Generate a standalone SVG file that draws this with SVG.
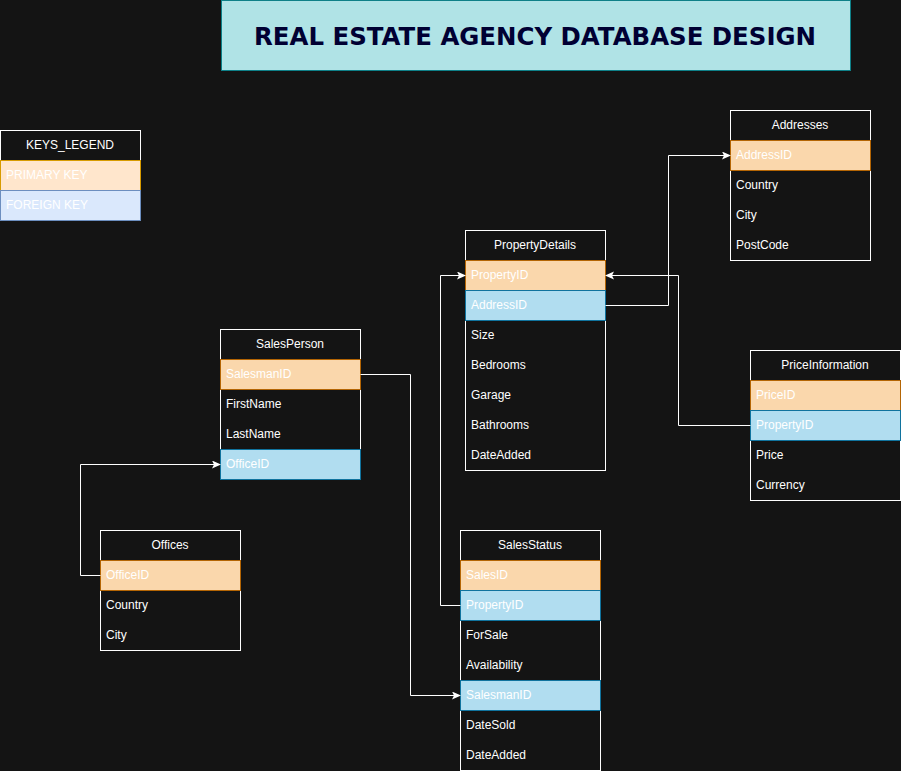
<svg xmlns="http://www.w3.org/2000/svg" width="901" height="771" viewBox="0 0 901 771">
<defs>
<marker id="arr" markerWidth="10" markerHeight="10" refX="8" refY="4" orient="auto" markerUnits="userSpaceOnUse">
<path d="M0,0 L9,4 L0,8 L2,4 Z" fill="#ffffff"/>
</marker>
<style>
.hd{fill:#141414;stroke:#ffffff;stroke-width:1}
.pk{fill:#fad7ac;stroke:#b46504;stroke-width:1}
.fk{fill:#b1ddf0;stroke:#10739e;stroke-width:1}
.lpk{fill:#ffe6cc;stroke:#d79b00;stroke-width:1}
.lfk{fill:#dae8fc;stroke:#6c8ebf;stroke-width:1}
.ht{font-family:"Liberation Sans",Arial,sans-serif;font-size:12px;fill:#ffffff;text-anchor:middle}
.rt{font-family:"Liberation Sans",Arial,sans-serif;font-size:12px;fill:#ffffff}
.conn{fill:none;stroke:#ffffff;stroke-width:1}
</style>
</defs>
<rect x="0" y="0" width="901" height="771" fill="#141414"/>

<g id="title">
<rect x="221.5" y="0.5" width="629" height="70" fill="#b0e3e6" stroke="#0e8088"/>
<text x="535" y="45" font-family="'DejaVu Sans',Verdana,sans-serif" font-weight="bold" font-size="25" fill="#000033" text-anchor="middle" textLength="562" lengthAdjust="spacingAndGlyphs">REAL ESTATE AGENCY DATABASE DESIGN</text>
</g>

<g id="legend">
<rect class="hd" x="0.5" y="130.5" width="140" height="90"/>
<text class="ht" x="70" y="149">KEYS_LEGEND</text>
<rect class="lpk" x="0.5" y="160.5" width="140" height="30"/>
<text class="rt" x="6" y="179">PRIMARY KEY</text>
<rect class="lfk" x="0.5" y="190.5" width="140" height="30"/>
<text class="rt" x="6" y="209">FOREIGN KEY</text>
</g>

<g id="addresses">
<rect class="hd" x="730.5" y="110.5" width="140" height="150"/>
<text class="ht" x="800" y="129">Addresses</text>
<rect class="pk" x="730.5" y="140.5" width="140" height="30"/>
<text class="rt" x="736" y="159">AddressID</text>
<text class="rt" x="736" y="189">Country</text>
<text class="rt" x="736" y="219">City</text>
<text class="rt" x="736" y="249">PostCode</text>
</g>

<g id="propertydetails">
<rect class="hd" x="465.5" y="230.5" width="140" height="240"/>
<text class="ht" x="535" y="249">PropertyDetails</text>
<rect class="pk" x="465.5" y="260.5" width="140" height="30"/>
<text class="rt" x="471" y="279">PropertyID</text>
<rect class="fk" x="465.5" y="290.5" width="140" height="30"/>
<text class="rt" x="471" y="309">AddressID</text>
<text class="rt" x="471" y="339">Size</text>
<text class="rt" x="471" y="369">Bedrooms</text>
<text class="rt" x="471" y="399">Garage</text>
<text class="rt" x="471" y="429">Bathrooms</text>
<text class="rt" x="471" y="459">DateAdded</text>
</g>

<g id="salesperson">
<rect class="hd" x="220.5" y="329.5" width="140" height="150"/>
<text class="ht" x="290" y="348">SalesPerson</text>
<rect class="pk" x="220.5" y="359.5" width="140" height="30"/>
<text class="rt" x="226" y="378">SalesmanID</text>
<text class="rt" x="226" y="408">FirstName</text>
<text class="rt" x="226" y="438">LastName</text>
<rect class="fk" x="220.5" y="449.5" width="140" height="30"/>
<text class="rt" x="226" y="468">OfficeID</text>
</g>

<g id="priceinformation">
<rect class="hd" x="750.5" y="350.5" width="150" height="150"/>
<text class="ht" x="825" y="369">PriceInformation</text>
<rect class="pk" x="750.5" y="380.5" width="150" height="30"/>
<text class="rt" x="756" y="399">PriceID</text>
<rect class="fk" x="750.5" y="410.5" width="150" height="30"/>
<text class="rt" x="756" y="429">PropertyID</text>
<text class="rt" x="756" y="459">Price</text>
<text class="rt" x="756" y="489">Currency</text>
</g>

<g id="offices">
<rect class="hd" x="100.5" y="530.5" width="140" height="120"/>
<text class="ht" x="170" y="549">Offices</text>
<rect class="pk" x="100.5" y="560.5" width="140" height="30"/>
<text class="rt" x="106" y="579">OfficeID</text>
<text class="rt" x="106" y="609">Country</text>
<text class="rt" x="106" y="639">City</text>
</g>

<g id="salesstatus">
<rect class="hd" x="460.5" y="530.5" width="140" height="240"/>
<text class="ht" x="530" y="549">SalesStatus</text>
<rect class="pk" x="460.5" y="560.5" width="140" height="30"/>
<text class="rt" x="466" y="579">SalesID</text>
<rect class="fk" x="460.5" y="590.5" width="140" height="30"/>
<text class="rt" x="466" y="609">PropertyID</text>
<text class="rt" x="466" y="639">ForSale</text>
<text class="rt" x="466" y="669">Availability</text>
<rect class="fk" x="460.5" y="680.5" width="140" height="30"/>
<text class="rt" x="466" y="699">SalesmanID</text>
<text class="rt" x="466" y="729">DateSold</text>
<text class="rt" x="466" y="759">DateAdded</text>
</g>

<g id="connectors">
<path class="conn" d="M605.5,305.5 H668.5 V155.5 H730" marker-end="url(#arr)"/>
<path class="conn" d="M750.5,425.5 H678.5 V275.5 H606" marker-end="url(#arr)"/>
<path class="conn" d="M460.5,605.5 H440.5 V275.5 H465" marker-end="url(#arr)"/>
<path class="conn" d="M360.5,374.5 H410.5 V695.5 H460" marker-end="url(#arr)"/>
<path class="conn" d="M100.5,575.5 H80.5 V464.5 H220" marker-end="url(#arr)"/>
</g>
</svg>
